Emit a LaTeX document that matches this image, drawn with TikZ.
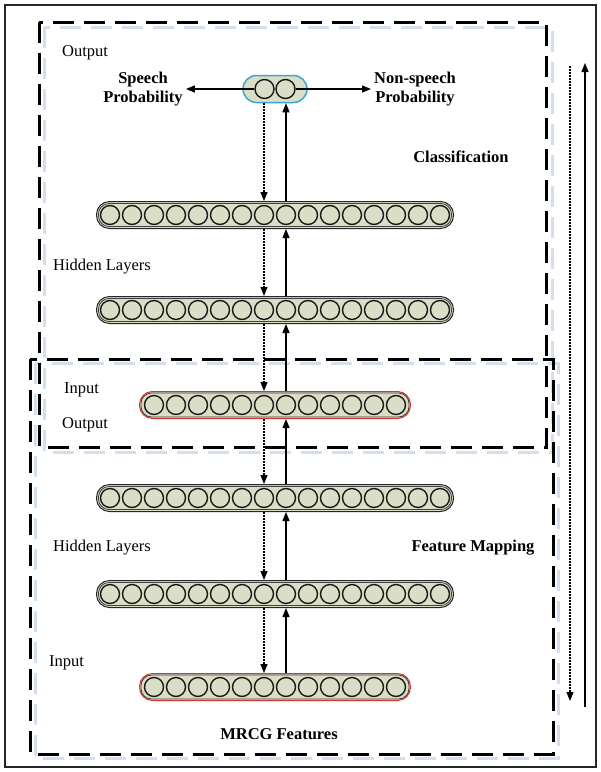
\documentclass[tikz,border=0pt]{standalone}
\usepackage{fontspec}
\setmainfont{Liberation Serif}
\usetikzlibrary{arrows.meta}
\definecolor{pillfill}{HTML}{DBDEC6}
\definecolor{shadowblue}{HTML}{D3DEEE}
\definecolor{outblue}{HTML}{3AA6D4}
\definecolor{redline}{HTML}{D9372F}
\tikzset{
  neuron/.style={circle, draw=black!90, line width=1.4pt, fill=pillfill, minimum size=19pt, inner sep=0pt},
  hiddenbox/.style={draw=black!85, line width=1pt, fill=pillfill, rounded corners=13pt, minimum height=27pt, minimum width=357pt, inner sep=0pt},
  redbox/.style={draw=redline, line width=1pt, fill=pillfill, rounded corners=13pt, minimum height=27pt, minimum width=271pt, inner sep=0pt},
  outbox/.style={draw=outblue, line width=1.5pt, fill=pillfill, rounded corners=13.5pt, minimum height=27pt, minimum width=64pt, inner sep=0pt},
  innerline/.style={draw=black!75, line width=0.8pt, rounded corners=10.5pt},
  bigdash/.style={line width=3pt, dash pattern=on 21pt off 10pt},
  lbl/.style={font=\fontsize{16.5}{19}\selectfont, inner sep=0pt, anchor=west},
  blbl/.style={font=\fontsize{16.5}{19}\selectfont\bfseries, inner sep=3pt, align=center},
  solidarrow/.style={line width=1.3pt, -{Triangle[length=9pt,width=7pt]}},
  dotarrow/.style={line width=1.1pt, dash pattern=on 1.6pt off 1.4pt, -{Triangle[length=9pt,width=7pt]}},
}
\begin{document}
\begin{tikzpicture}[x=1pt,y=-1pt]
\useasboundingbox (0,0) rectangle (601,772);
\fill[white] (0,0) rectangle (601,772);
% outer border
\draw[line width=2.5pt, black!85] (5,5) rectangle (596,767);
% shadows
\draw[bigdash, shadowblue] (44,27) rectangle (552,452);
\draw[bigdash, shadowblue] (35,363) rectangle (558,758);
% dashed boxes
\draw[bigdash] (39,22) rectangle (546,447);
\draw[bigdash] (30,359) rectangle (553,754);

% layers
\node[outbox] (out) at (275,89) {};
\node[neuron] (oc1) at (264.5,89) {};
\node[neuron] (oc2) at (285.5,89) {};

\foreach \n/\y in {h1/215, h2/310, h3/498, h4/594} {
  \node[hiddenbox] (\n) at (275,\y) {};
  \draw[innerline] ([shift={(2.5,2.5)}]\n.north west) rectangle ([shift={(-2.5,-2.5)}]\n.south east);
  \foreach \i in {1,...,16} {
    \node[neuron] (\n c\i) at ([xshift={(\i-8.5)*22}]\n.center) {};
  }
}
\foreach \n/\y in {r1/405, r2/687} {
  \node[redbox] (\n) at (275,\y) {};
  \draw[innerline] ([shift={(2,2)}]\n.north west) rectangle ([shift={(-2,-2)}]\n.south east);
  \foreach \i in {1,...,12} {
    \node[neuron] (\n c\i) at ([xshift={(\i-6.5)*22}]\n.center) {};
  }
}

% labels
\node[blbl] (sp) at (143,89) {Speech\\Probability};
\node[blbl] (np) at (415,89) {Non-speech\\Probability};
\node[lbl] (t1) at (62,53) {Output};
\node[blbl] (cl) at (461,157) {Classification};
\node[lbl] (t2) at (53,267) {Hidden Layers};
\node[lbl] (t3) at (64,390) {Input};
\node[lbl] (t4) at (62,425) {Output};
\node[lbl] (t5) at (53,548) {Hidden Layers};
\node[blbl] (fm) at (473,548) {Feature Mapping};
\node[lbl] (t6) at (49,663) {Input};
\node[blbl] (mr) at (279,734) {MRCG Features};

% output arrows
\draw[solidarrow] (oc1.west) -- (sp.east);
\draw[solidarrow] (oc2.east) -- (np.west);

% vertical arrows between layers
\foreach \a/\b in {out/h1, h1/h2, h2/r1, r1/h3, h3/h4, h4/r2} {
  \draw[dotarrow] ([xshift=-11pt]\a.south) -- ([xshift=-11pt]\b.north);
  \draw[solidarrow] ([xshift=11pt]\b.north) -- ([xshift=11pt]\a.south);
}

% side arrows
\coordinate (dTop) at (570,66);
\coordinate (dBot) at (570,701);
\coordinate (sBot) at (585,707);
\coordinate (sTop) at (585,63);
\draw[dotarrow] (dTop) -- (dBot);
\draw[solidarrow] (sBot) -- (sTop);
\end{tikzpicture}
\end{document}
